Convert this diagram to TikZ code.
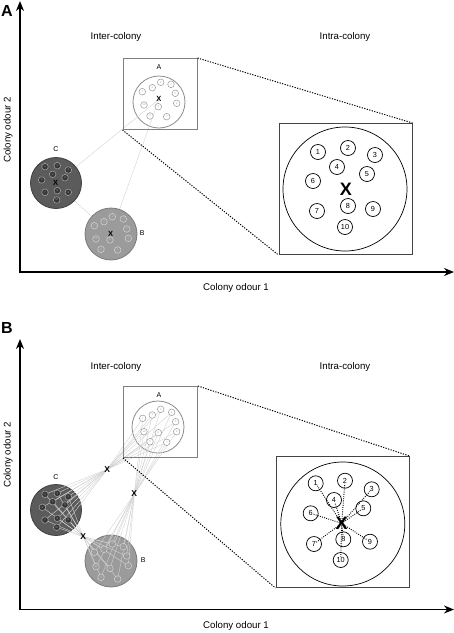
\documentclass[tikz,border=0pt]{standalone}
\usepackage{fontspec}
\setmainfont{Liberation Sans}
\usetikzlibrary{arrows.meta}
\definecolor{boxgray}{HTML}{808080}
\definecolor{bigboxc}{HTML}{444444}
\definecolor{ringA}{HTML}{8C8C8C}
\definecolor{antAd}{HTML}{9A9A9A}
\definecolor{fillC}{HTML}{5B5B5B}
\definecolor{ringC}{HTML}{3F3F3F}
\definecolor{antCf}{HTML}{383838}
\definecolor{antCd}{HTML}{A8A8A8}
\definecolor{fillB}{HTML}{9B9B9B}
\definecolor{ringB}{HTML}{7A7A7A}
\definecolor{antBd}{HTML}{D5D5D5}
\definecolor{connc}{HTML}{D2D2D2}
\pgfdeclarelayer{bg}
\pgfdeclarelayer{lines}
\pgfsetlayers{bg,lines,main}
\tikzset{
  axisline/.style={line width=1.5pt, line join=miter, {Stealth[length=10pt,width=8pt]}-{Stealth[length=10pt,width=8pt]}},
  lab/.style={font=\fontsize{9.7}{11}\selectfont, inner sep=0},
  panel/.style={font=\bfseries\fontsize{16}{16}\selectfont, inner sep=0},
  clab/.style={font=\fontsize{7}{8}\selectfont, inner sep=0},
  sbox/.style={draw=boxgray, line width=1pt, minimum width=74pt, minimum height=71pt, inner sep=0},
  bbox/.style={draw=bigboxc, line width=1pt, minimum width=133pt, minimum height=131pt, inner sep=0},
  zline/.style={line width=1pt, dash pattern=on 1.2pt off 1.4pt},
  colA/.style={circle, draw=ringA, fill=white, line width=0.8pt, minimum size=52pt, inner sep=0},
  colC/.style={circle, draw=ringC, fill=fillC, line width=0.8pt, minimum size=51pt, inner sep=0},
  colB/.style={circle, draw=ringB, fill=fillB, line width=0.8pt, minimum size=52pt, inner sep=0},
  antbase/.style={circle, line width=0.5pt, minimum size=6.6pt, inner sep=0, font=\fontsize{2.5}{3}\selectfont},
  antA/.style={antbase, draw=antAd, fill=white, text=antAd},
  antC/.style={antbase, draw=antCd, fill=antCf, text=antCd},
  antB/.style={antbase, draw=antBd, fill=fillB, text=antBd},
  xs/.style={font=\bfseries\fontsize{7.5}{8}\selectfont, inner sep=0},
  xm/.style={font=\bfseries\fontsize{8.5}{9}\selectfont, inner sep=0},
  bigX/.style={font=\bfseries\fontsize{18}{18}\selectfont, inner sep=0},
  bigc/.style={circle, draw, line width=0.7pt, minimum size=124pt, inner sep=0},
  ant/.style={circle, draw, line width=0.7pt, minimum size=15pt, inner sep=0, font=\fontsize{7.3}{8}\selectfont},
  conn/.style={draw=connc, line width=0.4pt},
  dotl/.style={line width=0.9pt, dash pattern=on 0.9pt off 1.3pt}
}
\begin{document}
\begin{tikzpicture}[x=1pt,y=-1pt]
\useasboundingbox (0,0) rectangle (454,633);

% ================= PANEL A =================
\node[panel] (pA) at (7,11) {A};
\coordinate (yA) at (20,1);
\coordinate (oA) at (20,272);
\coordinate (xA) at (454,272);
\draw[axisline] (yA) -- (oA) -- (xA);
\node[lab] (inter1) at (116,37) {Inter-colony};
\node[lab] (intra1) at (345,37) {Intra-colony};
\node[lab] (xl1) at (236,288) {Colony odour 1};
\node[lab, rotate=90] (yl1) at (8,130) {Colony odour 2};

% small box and colony A
\node[sbox] (boxA1) at (160,94) {};
\node[clab] (lA1) at (159,67) {A};
\begin{pgfonlayer}{bg}
  \node[colA] (cA1) at (159,102) {};
\end{pgfonlayer}
\foreach \x/\y/\n [count=\i] in {142.3/91.7/1, 152.3/87.7/2, 160.7/82.3/3, 171/84.3/4, 175.3/93.3/5, 176.7/103.3/6, 144/105/10, 158.3/106.7/8, 150/116/9, 166.7/116.7/7}
  \node[antA] (A1-\i) at (\x,\y) {\n};
\node[xs] (XA1) at (159,99.3) {X};

% colony C
\node[colC] (cC1) at (56,183) {};
\node[clab] (lC1) at (56,149) {C};
\foreach \x/\y/\n [count=\i] in {45/166.7/1, 57.3/165.7/2, 68.3/170/3, 52.7/174.3/4, 65/177.7/5, 41.7/180/6, 57.3/190.7/8, 45/192.3/7, 68.3/192.3/9, 56.7/200/10}
  \node[antC] (C1-\i) at (\x,\y) {\n};
\node[xs] (XC1) at (55.7,183.3) {X};

% colony B
\node[colB] (cB1) at (111,234) {};
\node[clab] (lB1) at (142.3,233.3) {B};
\foreach \x/\y/\n [count=\i] in {112.3/216.7/3, 104/221.7/2, 123.3/219/4, 94.3/225.7/1, 126.7/229/5, 110/240/8, 96/239/10, 128.3/238.3/6, 101/249.3/9, 117.7/250/7}
  \node[antB] (B1-\i) at (\x,\y) {\n};
\node[xs] (XB1) at (110.7,234) {X};

% inter-colony connectors
\begin{pgfonlayer}{lines}
  \draw[conn] (XC1.center) -- (XA1.center);
  \draw[conn] (XB1.center) -- (XA1.center);
  \draw[conn] (XC1.center) -- (XB1.center);
\end{pgfonlayer}

% big box
\node[bbox] (bbox1) at (345.5,189) {};
\node[bigc] (bc1) at (345,189) {};
\foreach \x/\y/\n in {318/152/1, 348/148/2, 375/155/3, 337/167/4, 367/174/5, 313/181/6, 317/211/7, 348/206/8, 373/209/9, 345/227/10}
  \node[ant] (I1-\n) at (\x,\y) {\n};
\node[bigX] (X1) at (346,189) {X};
\draw[zline] (boxA1.north east) -- (bbox1.north east);
\draw[zline] (boxA1.south west) -- (bbox1.south west);

% ================= PANEL B =================
\node[panel] (pB) at (7,328) {B};
\coordinate (yB) at (20,339);
\coordinate (oB) at (20,609.5);
\coordinate (xB) at (454,609.5);
\draw[axisline] (yB) -- (oB) -- (xB);
\node[lab] (inter2) at (116,367) {Inter-colony};
\node[lab] (intra2) at (345,367) {Intra-colony};
\node[lab] (xl2) at (236,626) {Colony odour 1};
\node[lab, rotate=90] (yl2) at (8,455) {Colony odour 2};

% small box and colony A
\node[sbox] (boxA2) at (160.5,422) {};
\node[clab] (lA2) at (159,395) {A};
\begin{pgfonlayer}{bg}
  \node[colA] (cA2) at (158,427) {};
  \node[colC] (cC2) at (56,510) {};
  \node[colB] (cB2) at (111,561) {};
\end{pgfonlayer}
\foreach \x/\y/\n [count=\i] in {142.7/418.3/1, 152.3/415/2, 160.7/409.3/3, 171.7/412.3/4, 175.7/421.7/5, 176.7/431.7/6, 144/431.7/10, 158.3/432.7/8, 150/441.7/9, 166.7/442.3/7}
  \node[antA] (A2-\i) at (\x,\y) {\n};

\node[clab] (lC2) at (56,477) {C};
\foreach \x/\y/\n [count=\i] in {45/494.3/1, 57.3/493.3/2, 68.3/496.7/3, 52.7/501.7/4, 65/505/5, 42.3/507.3/6, 57.3/518.3/8, 45/520/7, 68.3/520/9, 56.7/527.3/10}
  \node[antC] (C2-\i) at (\x,\y) {\n};

\node[clab] (lB2) at (143.3,560) {B};
\foreach \x/\y/\n [count=\i] in {112.3/544/3, 104/549.3/2, 123.3/546.7/4, 94.3/552.3/1, 126.7/556/5, 110/568.3/8, 96/566.7/10, 128.3/565.7/6, 101/577.3/9, 117.7/579/7}
  \node[antB] (B2-\i) at (\x,\y) {\n};

% crossing markers
\node[xm] (Xac) at (107.3,469.3) {X};
\node[xm] (Xab) at (134.3,494) {X};
\node[xm] (Xcb) at (83.3,536.7) {X};

\begin{pgfonlayer}{lines}
  \foreach \i in {1,...,10} {
    \draw[conn] (A2-\i.center) -- (Xac.center);
    \draw[conn] (C2-\i.center) -- (Xac.center);
    \draw[conn] (A2-\i.center) -- (Xab.center);
    \draw[conn] (B2-\i.center) -- (Xab.center);
    \draw[conn] (C2-\i.center) -- (Xcb.center);
    \draw[conn] (B2-\i.center) -- (Xcb.center);
  }
\end{pgfonlayer}

% big box
\node[bbox] (bbox2) at (342.5,522) {};
\node[bigc] (bc2) at (342.8,524) {};
\foreach \x/\y/\n in {315.7/483.3/1, 345/480.7/2, 371.7/489.3/3, 334/500/4, 363.3/508.3/5, 310.7/513.3/6, 314/544/7, 343.3/539.3/8, 370/541.7/9, 340.7/560/10}
  \node[ant] (I2-\n) at (\x,\y) {\n};
\node[bigX] (X2) at (341.7,523.3) {X};
\foreach \n in {1,...,10}
  \draw[dotl, shorten >=3pt] (X2.center) -- (I2-\n.center);
\draw[zline] (boxA2.north east) -- (bbox2.north east);
\draw[zline] (boxA2.south west) -- (bbox2.south west);
\end{tikzpicture}
\end{document}
